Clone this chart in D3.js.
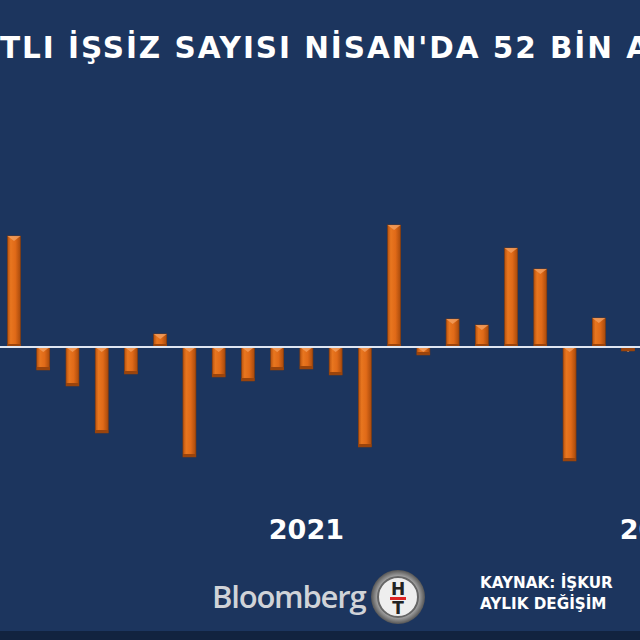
<!DOCTYPE html><html><head><meta charset="utf-8">
<script src="https://cdn.jsdelivr.net/npm/d3@7"></script>
<style>body{margin:0;background:#1c355e}svg{display:block}</style></head><body>
<script>
const months=["Mar20","Nis20","May20","Haz20","Tem20","Ağu20","Eyl20","Eki20","Kas20","Ara20","Oca21","Şub21","Mar21","Nis21","May21","Haz21","Tem21","Ağu21","Eyl21","Eki21","Kas21","Ara21"];
const values=[111,-23,-39,-86,-27,13,-110,-30,-34,-23,-22,-28,-100,122,-8,28,22,99,78,-114,29,-4];
const yearLabels=[{i:10,t:"2021"},{i:22,t:"2022"}];
const title="KAYITLI İŞSİZ SAYISI NİSAN'DA 52 BİN ARTTI";
const W=640,H=640;
const svg=d3.select("body").append("svg").attr("width",W).attr("height",H);
svg.append("rect").attr("width",W).attr("height",H).attr("fill","#1c355e");
const defs=svg.append("defs");
const g=defs.append("linearGradient").attr("id","bg").attr("x1",0).attr("x2",1);
[["0%","#b9530f"],["25%","#e8761f"],["60%","#e06a18"],["100%","#a84a0c"]].forEach(s=>g.append("stop").attr("offset",s[0]).attr("stop-color",s[1]));
const x=d3.scaleLinear().domain([0,1]).range([14,43.24]);
const y=d3.scaleLinear().domain([-200,200]).range([547,147]);
const bw=13;
const bars=svg.append("g");
values.forEach((v,i)=>{
  const cx=x(i),y0=y(0),y1=y(v);
  const top=Math.min(y0,y1),yb=Math.max(y0,y1);
  bars.append("rect").attr("x",cx-bw/2).attr("y",top).attr("width",bw).attr("height",yb-top).attr("fill","url(#bg)").attr("stroke","#8a3c08").attr("stroke-width",0.6);
  bars.append("path").attr("d",`M${cx-bw/2},${top} L${cx+bw/2},${top} L${cx},${top+5} Z`).attr("fill","#f4a060").attr("opacity",0.8);
  bars.append("rect").attr("x",cx-bw/2).attr("y",yb-3).attr("width",bw).attr("height",3).attr("fill","#9a440c");
});
svg.append("line").attr("x1",0).attr("x2",W).attr("y1",y(0)).attr("y2",y(0)).attr("stroke","#dfe6f2").attr("stroke-width",2);
svg.selectAll(".yl").data(yearLabels).enter().append("text").attr("x",d=>x(d.i)).attr("y",539).attr("text-anchor","middle")
 .attr("fill","#fff").attr("font-family","DejaVu Sans").attr("font-weight","bold").attr("font-size",27).text(d=>d.t);
const fs=29.5;
function measure(s){const p=svg.append("text").attr("font-family","DejaVu Sans").attr("font-weight","bold").attr("font-size",fs).text(s);const w=p.node().getComputedTextLength();p.remove();return w;}
const pre="KAYI",seg="TLI İŞSİZ SAYISI NİSAN'DA 52 BİN";
const ls=(612-measure(seg))/(seg.length-1);
const pw=measure(pre)+ls*pre.length;
svg.append("text").attr("x",-pw).attr("y",58).attr("fill","#fff").attr("font-family","DejaVu Sans").attr("font-weight","bold").attr("font-size",fs).attr("letter-spacing",ls).text(title);
svg.append("text").attr("x",212).attr("y",608).attr("fill","#d0d3d8").attr("font-family","Open Sans").attr("font-weight",600).attr("font-size",31).attr("letter-spacing",-1.2).text("Bloomberg");
const lg=svg.append("g").attr("transform","translate(398,597)");
const rg=defs.append("radialGradient").attr("id","lg");
rg.append("stop").attr("offset","0%").attr("stop-color","#fff");rg.append("stop").attr("offset","70%").attr("stop-color","#bbb");rg.append("stop").attr("offset","100%").attr("stop-color","#555");
lg.append("circle").attr("r",27).attr("fill","url(#lg)");
lg.append("circle").attr("r",20).attr("fill","#eee").attr("stroke","#666").attr("stroke-width",2);
lg.append("text").attr("y",-2).attr("text-anchor","middle").attr("font-family","DejaVu Sans").attr("font-weight","bold").attr("font-size",17).attr("fill","#222").text("H");
lg.append("rect").attr("x",-8).attr("y",0).attr("width",16).attr("height",3).attr("fill","#d22");
lg.append("text").attr("y",17).attr("text-anchor","middle").attr("font-family","DejaVu Sans").attr("font-weight","bold").attr("font-size",17).attr("fill","#222").text("T");
["KAYNAK: İŞKUR","AYLIK DEĞİŞİM"].forEach((t,i)=>svg.append("text").attr("x",480).attr("y",588+i*21).attr("fill","#fff").attr("font-family","DejaVu Sans").attr("font-weight","bold").attr("font-size",15.2).text(t));
svg.append("rect").attr("x",0).attr("y",631).attr("width",W).attr("height",9).attr("fill","#12233f");
</script></body></html>
